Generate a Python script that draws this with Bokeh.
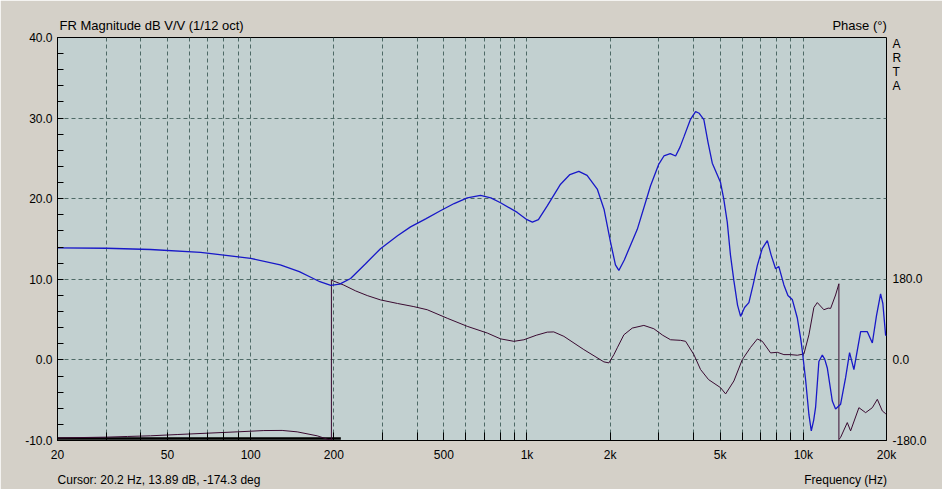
from bokeh.plotting import figure
from bokeh.models import Range1d, LinearAxis, LogAxis, FixedTicker, PrintfTickFormatter
from bokeh.embed import file_html
from bokeh.resources import INLINE

# ---------------- data ----------------
mag_freq = [20, 30, 43.4, 65.9, 100, 128, 150, 165, 178, 195, 210, 230, 260, 295, 340, 379,
            430, 486, 545, 608, 679, 740, 802, 922, 1000, 1046, 1100, 1184, 1323, 1430, 1540,
            1650, 1796, 1900, 2006, 2090, 2150, 2250, 2507, 2800, 3000, 3130, 3300, 3450, 3580,
            3700, 3900, 4075, 4200, 4366, 4520, 4684, 5018, 5150, 5306, 5450, 5608, 5780, 5930,
            6130, 6354, 6600, 6815, 7100, 7410, 7650, 7938, 8150, 8506, 8796, 9120, 9512, 9778,
            9918, 10194, 10478, 10687, 10900, 11076, 11386, 11714, 11950, 12212, 12732, 13086,
            13646, 14224, 14704, 15242, 16122, 17046, 17772, 18400, 19040, 19400, 19848, 20000]
mag_db = [13.9, 13.85, 13.7, 13.35, 12.6, 11.8, 10.95, 10.25, 9.7, 9.25, 9.4, 10.1, 11.9, 13.8, 15.4, 16.5,
          17.5, 18.5, 19.4, 20.1, 20.4, 20.1, 19.5, 18.3, 17.4, 17.1, 17.4, 19.1, 21.8, 23.0, 23.4,
          22.9, 21.2, 18.7, 14.6, 11.8, 11.1, 12.4, 16.2, 21.6, 24.3, 25.3, 25.6, 25.3, 26.4,
          27.7, 29.8, 30.8, 30.6, 29.8, 27.0, 24.4, 22.0, 20.0, 17.1, 13.0, 9.8, 6.8, 5.4,
          6.5, 7.1, 9.5, 11.7, 13.8, 14.8, 13.0, 11.3, 11.6, 9.3, 8.0, 7.5, 5.2, 2.7,
          1.1, -2.5, -6.8, -8.8, -7.5, -5.9, -0.2, 0.6, 0.1, -1.0, -5.1, -6.1,
          -5.5, -2.2, 0.9, -1.2, 3.5, 3.5, 2.1, 5.5, 8.2, 7.0, 3.1, 3.0]

phase_freq = [20, 30, 35.8, 43.4, 54.2, 69.6, 89.4, 111.6, 130, 147.4, 174.2, 189.3, 196, 196,
              217.4, 240, 264.2, 295, 340, 389.6, 435.6, 514.6, 607.8, 718.4, 802, 896.6, 974.6,
              1080, 1184, 1250, 1360, 1606, 1898, 1979, 2064, 2122, 2242, 2404, 2648, 2878, 3100, 3308,
              3596, 3750, 4018, 4248, 4540, 5018, 5234, 5608, 6014, 6444, 6816, 7106, 7614, 8050,
              8506, 8994, 9512, 10050, 10478, 10920, 11236, 11870, 12300, 12556, 13086, 13452, 13452,
              13646, 14426, 14830, 15892, 16808, 17772, 18528, 19312, 19848, 20000]
phase_deg = [-174.3, -172.5, -171, -169.5, -166.7, -163.7, -160.7, -157.8, -157.5, -160.7, -169.6, -177, -180, 178,
             167, 154, 143.7, 134, 126, 119, 112, 93, 75, 60, 47, 41.5, 45,
             55, 62, 62.5, 52.6, 23, -4.4, -6.7, 12, 27, 56, 71, 77, 69.6, 55, 45,
             43.7, 41.5, 11.8, -21.5, -44, -62, -76, -47, 0.7, 28, 46.7, 41.5, 15.6, 17,
             11.8, 11.8, 10.4, 13.3, 56, 117, 128, 112, 115.6, 115, 145, 170, -178,
             -173, -140, -158.5, -106.7, -117.8, -106.7, -88, -114, -120, -118]

bar_freq = [20, 212]
bar_level = [-9.75, -9.75]

x_tick_values = [20, 50, 100, 200, 500, 1000, 2000, 5000, 10000, 20000]
x_tick_labels = ["20", "50", "100", "200", "500", "1k", "2k", "5k", "10k", "20k"]
x_minor_values = [30, 40, 60, 70, 80, 90, 300, 400, 600, 700, 800, 900,
                  3000, 4000, 6000, 7000, 8000, 9000]
x_grid_values = [30, 40, 50, 60, 70, 80, 90, 100, 200, 300, 400, 500, 600, 700, 800, 900,
                 1000, 2000, 3000, 4000, 5000, 6000, 7000, 8000, 9000, 10000]
y_tick_values = [-10, 0, 10, 20, 30, 40]
y_minor_values = [-8, -6, -4, -2, 2, 4, 6, 8, 12, 14, 16, 18, 22, 24, 26, 28, 32, 34, 36, 38]
y_grid_values = [0, 10, 20, 30]
phase_tick_values = [-180, 0, 180]

title_text = "FR Magnitude dB V/V (1/12 oct)"
phase_title = "Phase (\u00b0)"
cursor_text = "Cursor: 20.2 Hz, 13.89 dB, -174.3 deg"
freq_title = "Frequency (Hz)"
brand_letters = ["A", "R", "T", "A"]

# ---------------- style / placement ----------------
FONT = "Liberation Sans"
FS = "12px"
BG_OUT = "#D4D0C8"
BG_IN = "#C2D0D0"
GRID = "#4E6A66"
BLUE = "#1818C8"
PHASE = "#3A0A30"

# horizontal centres (in Hz on the log axis) of the texts around the frame
TITLE_X, PHASE_TITLE_X = 43.8, 15986
CURSOR_X, FREQ_TITLE_X = 46.6, 14224
# vertical positions (in phase-axis degrees) of the stacked brand letters
BRAND_Y = [704.5, 673.5, 642.4, 611.4]

p = figure(width=942, height=489, x_axis_type="log",
           x_range=Range1d(20, 20000), y_range=Range1d(-10, 40),
           output_backend="svg", toolbar_location=None,
           min_border_left=57, min_border_right=56, min_border_top=37, min_border_bottom=46)
p.extra_y_ranges = {"phase": Range1d(-180, 720)}

p.background_fill_color = BG_IN
p.border_fill_color = BG_OUT
p.outline_line_color = "black"
p.outline_line_width = 1
p.outline_line_alpha = 1


def style_axis(ax, standoff, size=FS):
    ax.major_label_text_font = FONT
    ax.major_label_text_font_size = size
    ax.major_label_text_color = "black"
    ax.major_label_standoff = standoff


def no_ticks(ax):
    ax.major_tick_in = 0
    ax.major_tick_out = 0
    ax.minor_tick_in = 0
    ax.minor_tick_out = 0
    ax.axis_line_color = None


# x axis
xa = p.xaxis[0]
xa.ticker = FixedTicker(ticks=x_tick_values, minor_ticks=x_minor_values)
xa.major_label_overrides = {v: l for v, l in zip(x_tick_values, x_tick_labels)}
xa.major_tick_in = 8
xa.major_tick_out = 0
xa.minor_tick_in = 8
xa.minor_tick_out = 0
xa.major_tick_line_color = "black"
xa.minor_tick_line_color = "black"
xa.axis_line_color = "black"
style_axis(xa, 7)

# second row under the x axis: cursor readout and axis title
xb = LogAxis(ticker=FixedTicker(ticks=[CURSOR_X, FREQ_TITLE_X], minor_ticks=[]))
xb.major_label_overrides = {CURSOR_X: cursor_text, FREQ_TITLE_X: freq_title}
no_ticks(xb)
style_axis(xb, 8)
p.add_layout(xb, "below")

# row above the frame: chart title and phase axis title
xt = LogAxis(ticker=FixedTicker(ticks=[TITLE_X, PHASE_TITLE_X], minor_ticks=[]))
xt.major_label_overrides = {TITLE_X: title_text, PHASE_TITLE_X: phase_title}
no_ticks(xt)
style_axis(xt, 5, size="13px")
p.add_layout(xt, "above")

# y axis (left)
ya = p.yaxis[0]
ya.ticker = FixedTicker(ticks=y_tick_values, minor_ticks=y_minor_values)
ya.formatter = PrintfTickFormatter(format="%.1f")
ya.major_tick_in = 6
ya.major_tick_out = 0
ya.minor_tick_in = 6
ya.minor_tick_out = 0
ya.major_tick_line_color = "black"
ya.minor_tick_line_color = "black"
ya.axis_line_color = "black"
style_axis(ya, 5)

# phase axis (right), also carrying the stacked brand letters
ra = LinearAxis(y_range_name="phase",
                ticker=FixedTicker(ticks=phase_tick_values + BRAND_Y, minor_ticks=[]),
                formatter=PrintfTickFormatter(format="%.1f"))
ra.major_label_overrides = {y: l for y, l in zip(BRAND_Y, brand_letters)}
no_ticks(ra)
style_axis(ra, 6)
p.add_layout(ra, "right")

# grids
p.xgrid.ticker = FixedTicker(ticks=x_grid_values)
p.ygrid.ticker = FixedTicker(ticks=y_grid_values)
for g in (p.xgrid[0], p.ygrid[0]):
    g.grid_line_color = GRID
    g.grid_line_dash = "4 3"
    g.grid_line_width = 1
    g.grid_line_alpha = 1

# curves
p.line(bar_freq, bar_level, color="black", line_width=2.5)
p.line(phase_freq, phase_deg, y_range_name="phase", color=PHASE, line_width=1)
p.line(mag_freq, mag_db, color=BLUE, line_width=1.3)

open("out.html", "w").write(file_html(p, INLINE))
